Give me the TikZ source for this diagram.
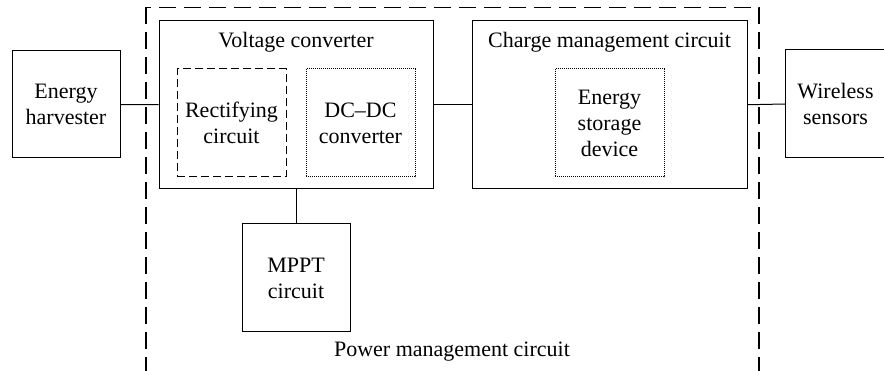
\documentclass[tikz,border=0pt]{standalone}
\usepackage{fontspec}
\setmainfont{Liberation Serif}
\begin{document}
\begin{tikzpicture}[x=1pt,y=-1pt,
  every node/.style={font=\fontsize{22}{26}\selectfont, align=center, inner sep=0pt},
  blk/.style={draw, line width=1pt, rectangle},
  dashblk/.style={draw, line width=1pt, rectangle, dash pattern=on 8pt off 4pt},
  dotblk/.style={draw, line width=1pt, rectangle, dash pattern=on 1pt off 1pt},
  outerbox/.style={line width=1.2pt, dash pattern=on 17pt off 8pt},
  conn/.style={line width=1pt}]
\useasboundingbox (0,0) rectangle (884,371);
% outer dashed region
\coordinate (o1) at (146,7.5);
\coordinate (o2) at (759,371.8);
\draw[outerbox] (o1) rectangle (o2);
% blocks
\node[blk, minimum width=108pt, minimum height=107pt] (eh) at (66,104.5) {Energy\\harvester};
\node[blk, minimum width=274pt, minimum height=168pt] (vc) at (296,104.75) {};
\node[anchor=base] (vct) at (296,48) {Voltage converter};
\node[dashblk, minimum width=109pt, minimum height=108pt] (rc) at (231.5,123) {Rectifying\\circuit};
\node[dotblk, minimum width=109pt, minimum height=108pt] (dc) at (360.5,123) {DC--DC\\converter};
\node[blk, minimum width=275pt, minimum height=168pt] (cm) at (609.5,104.75) {};
\node[anchor=base] (cmt) at (609.5,48) {Charge management circuit};
\node[dotblk, minimum width=109pt, minimum height=108pt] (es) at (609.5,123) {Energy\\storage\\device};
\node[blk, minimum width=100pt, minimum height=108pt] (ws) at (835.5,104) {Wireless\\sensors};
\node[blk, minimum width=108pt, minimum height=108pt] (mp) at (296,278) {MPPT\\circuit};
\node[anchor=base] (pmc) at (452,357) {Power management circuit};
% connectors
\draw[conn] (eh.east) -- (vc.west);
\draw[conn] (vc.east) -- (cm.west);
\draw[conn] (cm.east) -- (ws.west);
\draw[conn] (vc.south) -- (mp.north);
\end{tikzpicture}
\end{document}
